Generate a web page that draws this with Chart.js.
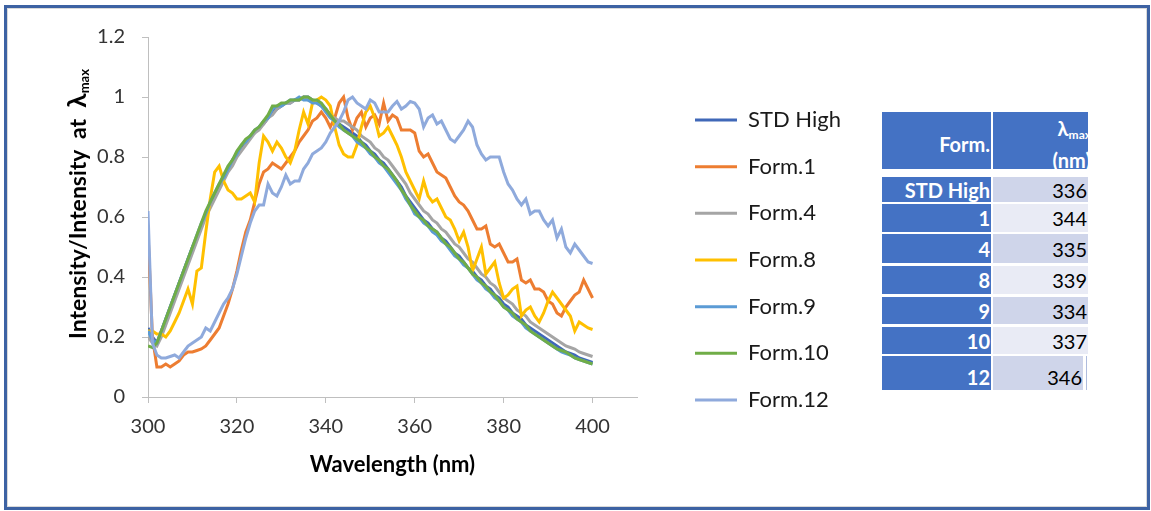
<!DOCTYPE html>
<html>
<head>
<meta charset="utf-8">
<script src="https://cdn.jsdelivr.net/npm/chart.js@4.4.1/dist/chart.umd.min.js"></script>
<style>
  html, body { margin: 0; padding: 0; background: #fff; }
  body { width: 1151px; height: 511px; position: relative; overflow: hidden; font-family: Lato, sans-serif; }
  #frame { position: absolute; left: 4px; top: 5px; width: 1146px; height: 505px; box-sizing: border-box;
           border: 3px solid #3D62A3; box-shadow: inset 0 0 0 1px #d9d9d9; pointer-events: none; }
  #chartBox { position: absolute; left: 0; top: 0; width: 870px; height: 511px; }
  #yTitle { position: absolute; left: 76px; top: 204px; transform: translate(-50%, -50%) rotate(-90deg);
            white-space: nowrap; font: bold 23px Lato, sans-serif; color: #000; }
  #yTitle .lam { font-size: 26px; }
  #yTitle sub { font-size: 13px; vertical-align: -3px; }
  .cell { position: absolute; overflow: hidden; box-sizing: border-box; display: flex; align-items: center;
          justify-content: flex-end; white-space: nowrap; }
  .c1 { background: #4472C4; color: #fff; font: bold 20px Lato, sans-serif; padding-right: 1px; }
  .c2 { color: #000; font: 20px Lato, sans-serif; padding-right: 1px; }
  .head2 { position: absolute; right: -3px; top: 0; text-align: right; color: #fff;
           font: bold 20px Lato, sans-serif; line-height: 32px; }
  .head2 sub { font-size: 12px; vertical-align: -3px; line-height: 0; }
</style>
</head>
<body>
<div id="chartBox"><canvas id="spectra"></canvas></div>
<div id="yTitle">Intensity/Intensity&nbsp; at &nbsp;<span class="lam">λ</span><sub>max</sub></div>
<div id="table"></div>
<div id="frame"></div>

<script>
// wavelength (nm), 1 nm steps
const wavelengths = [
  300, 301, 302, 303, 304, 305, 306, 307, 308, 309,
  310, 311, 312, 313, 314, 315, 316, 317, 318, 319,
  320, 321, 322, 323, 324, 325, 326, 327, 328, 329,
  330, 331, 332, 333, 334, 335, 336, 337, 338, 339,
  340, 341, 342, 343, 344, 345, 346, 347, 348, 349,
  350, 351, 352, 353, 354, 355, 356, 357, 358, 359,
  360, 361, 362, 363, 364, 365, 366, 367, 368, 369,
  370, 371, 372, 373, 374, 375, 376, 377, 378, 379,
  380, 381, 382, 383, 384, 385, 386, 387, 388, 389,
  390, 391, 392, 393, 394, 395, 396, 397, 398, 399,
  400
];

const stdHigh = [
  0.23, 0.20, 0.18, 0.22, 0.26, 0.30, 0.34, 0.38, 0.42, 0.46,
  0.50, 0.53, 0.57, 0.61, 0.64, 0.67, 0.70, 0.73, 0.76, 0.79,
  0.81, 0.83, 0.85, 0.87, 0.88, 0.90, 0.91, 0.93, 0.95, 0.96,
  0.97, 0.98, 0.98, 0.99, 0.99, 1.00, 1.00, 0.99, 0.98, 0.97,
  0.96, 0.94, 0.93, 0.91, 0.90, 0.89, 0.88, 0.87, 0.85, 0.84,
  0.82, 0.81, 0.79, 0.78, 0.76, 0.74, 0.72, 0.70, 0.67, 0.65,
  0.63, 0.61, 0.59, 0.58, 0.56, 0.55, 0.53, 0.52, 0.50, 0.48,
  0.47, 0.45, 0.43, 0.42, 0.40, 0.39, 0.37, 0.36, 0.34, 0.33,
  0.31, 0.30, 0.28, 0.27, 0.26, 0.24, 0.23, 0.22, 0.21, 0.20,
  0.19, 0.18, 0.17, 0.16, 0.15, 0.145, 0.14, 0.13, 0.125, 0.12,
  0.115
];

const form1 = [
  0.55, 0.20, 0.10, 0.10, 0.11, 0.10, 0.11, 0.12, 0.14, 0.15,
  0.15, 0.155, 0.16, 0.17, 0.19, 0.21, 0.23, 0.27, 0.31, 0.36,
  0.42, 0.49, 0.55, 0.59, 0.65, 0.71, 0.75, 0.76, 0.78, 0.77,
  0.76, 0.78, 0.80, 0.82, 0.85, 0.87, 0.89, 0.92, 0.93, 0.95,
  0.93, 0.90, 0.93, 0.98, 1.00, 0.93, 0.89, 0.93, 0.95, 0.90,
  0.93, 0.94, 0.91, 0.98, 0.92, 0.94, 0.93, 0.89, 0.89, 0.89,
  0.88, 0.82, 0.80, 0.81, 0.78, 0.75, 0.74, 0.73, 0.70, 0.67,
  0.65, 0.64, 0.62, 0.59, 0.56, 0.56, 0.57, 0.51, 0.50, 0.51,
  0.48, 0.45, 0.45, 0.46, 0.39, 0.38, 0.39, 0.36, 0.36, 0.35,
  0.32, 0.31, 0.28, 0.27, 0.30, 0.32, 0.34, 0.35, 0.39, 0.36,
  0.33
];

const form4 = [
  0.20, 0.18, 0.17, 0.20, 0.24, 0.28, 0.32, 0.36, 0.40, 0.44,
  0.48, 0.52, 0.56, 0.60, 0.63, 0.66, 0.69, 0.72, 0.75, 0.77,
  0.80, 0.82, 0.84, 0.86, 0.88, 0.89, 0.91, 0.93, 0.94, 0.96,
  0.97, 0.98, 0.98, 0.99, 0.99, 1.00, 0.99, 0.99, 0.98, 0.97,
  0.96, 0.94, 0.93, 0.92, 0.92, 0.91, 0.90, 0.89, 0.87, 0.86,
  0.85, 0.83, 0.82, 0.80, 0.79, 0.77, 0.75, 0.73, 0.71, 0.68,
  0.66, 0.64, 0.62, 0.61, 0.59, 0.58, 0.56, 0.55, 0.53, 0.51,
  0.50, 0.48, 0.46, 0.45, 0.43, 0.41, 0.40, 0.38, 0.37, 0.35,
  0.33, 0.32, 0.31, 0.29, 0.28, 0.27, 0.25, 0.24, 0.23, 0.22,
  0.21, 0.20, 0.19, 0.18, 0.17, 0.165, 0.16, 0.15, 0.145, 0.14,
  0.135
];

const form8 = [
  0.22, 0.22, 0.21, 0.21, 0.20, 0.22, 0.25, 0.28, 0.32, 0.36,
  0.31, 0.42, 0.43, 0.55, 0.66, 0.75, 0.77, 0.72, 0.69, 0.68,
  0.66, 0.66, 0.67, 0.68, 0.65, 0.78, 0.87, 0.85, 0.82, 0.85,
  0.83, 0.80, 0.78, 0.82, 0.89, 0.95, 0.91, 0.98, 0.99, 1.00,
  0.99, 0.97, 0.90, 0.84, 0.81, 0.80, 0.80, 0.84, 0.90, 0.95,
  0.97, 0.93, 0.87, 0.88, 0.90, 0.87, 0.84, 0.80, 0.75, 0.72,
  0.69, 0.66, 0.72, 0.67, 0.65, 0.66, 0.63, 0.60, 0.59, 0.56,
  0.52, 0.55, 0.50, 0.42, 0.46, 0.50, 0.41, 0.43, 0.45, 0.38,
  0.33, 0.34, 0.36, 0.37, 0.27, 0.29, 0.30, 0.27, 0.25, 0.28,
  0.32, 0.35, 0.33, 0.31, 0.29, 0.27, 0.22, 0.25, 0.24, 0.23,
  0.225
];

const form9 = [
  0.22, 0.19, 0.18, 0.22, 0.26, 0.30, 0.34, 0.38, 0.42, 0.46,
  0.50, 0.54, 0.58, 0.61, 0.65, 0.68, 0.71, 0.73, 0.76, 0.79,
  0.81, 0.84, 0.85, 0.87, 0.89, 0.90, 0.92, 0.93, 0.96, 0.97,
  0.97, 0.98, 0.99, 0.99, 1.00, 0.99, 0.99, 0.98, 0.98, 0.97,
  0.95, 0.93, 0.92, 0.90, 0.89, 0.88, 0.87, 0.85, 0.84, 0.83,
  0.81, 0.80, 0.78, 0.77, 0.75, 0.73, 0.71, 0.69, 0.66, 0.64,
  0.61, 0.60, 0.58, 0.57, 0.55, 0.54, 0.52, 0.51, 0.49, 0.47,
  0.46, 0.44, 0.43, 0.41, 0.39, 0.38, 0.36, 0.35, 0.33, 0.32,
  0.30, 0.29, 0.27, 0.26, 0.25, 0.23, 0.22, 0.21, 0.20, 0.19,
  0.18, 0.17, 0.16, 0.15, 0.145, 0.14, 0.13, 0.125, 0.12, 0.115,
  0.11
];

const form10 = [
  0.17, 0.165, 0.18, 0.22, 0.26, 0.30, 0.34, 0.38, 0.42, 0.46,
  0.50, 0.54, 0.58, 0.62, 0.65, 0.68, 0.71, 0.74, 0.77, 0.79,
  0.82, 0.84, 0.86, 0.87, 0.89, 0.90, 0.92, 0.94, 0.97, 0.97,
  0.98, 0.98, 0.99, 0.99, 0.99, 1.00, 1.00, 0.99, 0.99, 0.98,
  0.96, 0.94, 0.92, 0.91, 0.89, 0.88, 0.87, 0.86, 0.85, 0.83,
  0.82, 0.80, 0.79, 0.77, 0.76, 0.74, 0.72, 0.69, 0.67, 0.64,
  0.62, 0.60, 0.59, 0.57, 0.56, 0.55, 0.53, 0.51, 0.50, 0.48,
  0.46, 0.45, 0.43, 0.41, 0.40, 0.38, 0.37, 0.35, 0.34, 0.32,
  0.30, 0.29, 0.28, 0.26, 0.25, 0.24, 0.22, 0.21, 0.20, 0.19,
  0.18, 0.17, 0.16, 0.155, 0.15, 0.14, 0.13, 0.125, 0.12, 0.115,
  0.11
];

const form12 = [
  0.62, 0.18, 0.14, 0.13, 0.13, 0.135, 0.14, 0.13, 0.15, 0.17,
  0.18, 0.19, 0.20, 0.23, 0.22, 0.25, 0.28, 0.31, 0.33, 0.36,
  0.41, 0.47, 0.53, 0.58, 0.62, 0.64, 0.64, 0.71, 0.68, 0.67,
  0.70, 0.74, 0.71, 0.72, 0.72, 0.76, 0.78, 0.81, 0.82, 0.83,
  0.85, 0.88, 0.90, 0.92, 0.95, 0.99, 1.00, 0.98, 0.97, 0.96,
  0.99, 0.98, 0.95, 0.95, 0.95, 0.97, 0.985, 0.96, 0.97, 0.985,
  0.98, 0.96, 0.90, 0.93, 0.94, 0.91, 0.92, 0.89, 0.86, 0.85,
  0.87, 0.89, 0.92, 0.90, 0.84, 0.81, 0.79, 0.80, 0.80, 0.80,
  0.75, 0.71, 0.69, 0.66, 0.64, 0.66, 0.61, 0.62, 0.62, 0.59,
  0.57, 0.59, 0.53, 0.56, 0.50, 0.48, 0.51, 0.49, 0.47, 0.45,
  0.445
];

const seriesNames = ['STD High', 'Form.1', 'Form.4', 'Form.8', 'Form.9', 'Form.10', 'Form.12'];
const seriesValues = [stdHigh, form1, form4, form8, form9, form10, form12];

const xTickValues = [300, 320, 340, 360, 380, 400];

// side table
const tableForms = ['STD High', '1', '4', '8', '9', '10', '12'];
const tableLambda = [336, 344, 335, 339, 334, 337, 346];

// styling
const seriesColors = ['#4068B8', '#ED7D31', '#A5A5A5', '#FFC000', '#5B9BD5', '#70AD47', '#8FAADC'];
const axisGray = '#BFBFBF';
const tickFont = { family: 'Lato', size: 20 };
const legendFont = { family: 'Lato', size: 22 };
const legendPad = 24.67;
const legendLine = 42;

// legend should start at x=695 whatever the measured text width is
const measure = document.createElement('canvas').getContext('2d');
measure.font = legendFont.size + 'px ' + legendFont.family;
const widestLabel = Math.max(...seriesNames.map(n => measure.measureText(n).width));
const legendWidth = legendPad + legendLine + legendFont.size / 2 + widestLabel;
const legendLeft = 695 - legendPad;
const padRight = Math.max(0, 870 - legendLeft - legendWidth - 10);

const datasets = seriesNames.map((name, i) => ({
  label: name,
  data: seriesValues[i].map((v, j) => ({ x: wavelengths[j], y: v })),
  borderColor: seriesColors[i],
  backgroundColor: seriesColors[i],
  borderWidth: 3,
  pointRadius: 0,
  pointHoverRadius: 0,
  fill: false,
  tension: 0,
  // Excel draws later series on top
  order: seriesNames.length - 1 - i
}));

new Chart(document.getElementById('spectra'), {
  type: 'line',
  data: { datasets },
  options: {
    responsive: true,
    maintainAspectRatio: false,
    animation: false,
    layout: { padding: { left: 0, right: padRight, top: 37, bottom: 28 } },
    plugins: {
      legend: {
        position: 'right',
        align: 'center',
        maxWidth: 400,
        labels: {
          usePointStyle: true,
          pointStyle: 'line',
          pointStyleWidth: legendLine,
          padding: legendPad,
          color: '#1a1a1a',
          font: legendFont,
          sort: (a, b) => a.datasetIndex - b.datasetIndex
        }
      },
      tooltip: { enabled: false }
    },
    scales: {
      x: {
        type: 'linear',
        min: 300,
        max: 410,
        afterFit: s => { s.height = 86; },
        afterBuildTicks: s => { s.ticks = xTickValues.map(v => ({ value: v })); },
        ticks: { padding: 12, color: '#333', font: tickFont },
        grid: { display: true, drawOnChartArea: false, drawTicks: true, tickLength: 6, color: axisGray },
        border: { color: axisGray, width: 1 },
        title: {
          display: true,
          text: 'Wavelength (nm)',
          color: '#000',
          font: { family: 'Lato', size: 22, weight: 'bold' },
          padding: { top: 0, bottom: 5 }
        }
      },
      y: {
        min: 0,
        max: 1.2,
        afterFit: s => { s.width = 148; },
        ticks: {
          stepSize: 0.2,
          padding: 17,
          color: '#333',
          font: tickFont,
          callback: v => String(Number(v.toFixed(1)))
        },
        grid: { display: true, drawOnChartArea: false, drawTicks: true, tickLength: 6, color: axisGray },
        border: { color: axisGray, width: 1 }
      },
      // empty spacer between the plot and the legend
      gap: {
        type: 'linear',
        position: 'right',
        display: true,
        afterFit: s => { s.width = legendLeft - 637; },
        grid: { display: false },
        border: { display: false },
        ticks: { display: false }
      }
    }
  }
});

// table on the right
const table = document.getElementById('table');
const colLeft = [882, 993];
const colWidth = [109, 95];
const headTop = 112, headHeight = 57;
const rowTops = [177, 204, 234, 266, 297, 327, 356];
const rowHeights = [25, 28, 29, 28, 27, 27, 34];
const rowFills = ['#CFD5EA', '#E9EBF5'];

function addCell(cls, left, top, width, height, bg, html) {
  const d = document.createElement('div');
  d.className = 'cell ' + cls;
  d.style.left = left + 'px';
  d.style.top = top + 'px';
  d.style.width = width + 'px';
  d.style.height = height + 'px';
  if (bg) d.style.background = bg;
  d.innerHTML = html;
  table.appendChild(d);
  return d;
}

const h1 = addCell('c1', colLeft[0], headTop, colWidth[0], headHeight, null, 'Form.');
h1.style.paddingTop = '6px';
addCell('c1', colLeft[1], headTop, colWidth[1], headHeight, null,
  '<div class="head2">λ<sub>max</sub><br>(nm)</div>');

tableForms.forEach((f, i) => {
  const last = i === tableForms.length - 1;
  const a = addCell('c1', colLeft[0], rowTops[i], colWidth[0], rowHeights[i], null, f);
  const b = addCell('c2', colLeft[1], rowTops[i], last ? colWidth[1] - 5 : colWidth[1], rowHeights[i],
    rowFills[i % 2], String(tableLambda[i]));
  if (last) { a.style.paddingTop = '8px'; b.style.paddingTop = '8px'; }
});
const edge = document.createElement('div');
edge.style.cssText = 'position:absolute;left:1086px;top:356px;width:1px;height:34px;background:#AFBCDD;';
table.appendChild(edge);
</script>
</body>
</html>
